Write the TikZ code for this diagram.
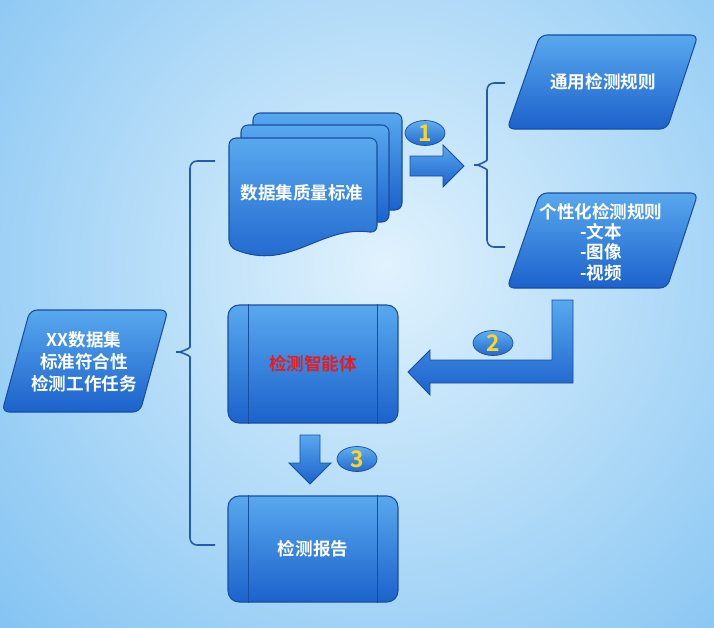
\documentclass[tikz,border=0pt]{standalone}
\usepackage{fontspec}
\setmainfont{Noto Sans CJK SC}[BoldFont={Noto Sans CJK SC Bold}]
\usetikzlibrary{calc,shapes.geometric}

\definecolor{bgout}{RGB}{92,176,238}
\definecolor{bgin}{RGB}{224,242,253}
\definecolor{boxtop}{RGB}{88,168,238}
\definecolor{boxbot}{RGB}{28,98,204}
\definecolor{badgetop}{RGB}{95,175,240}
\definecolor{badgebot}{RGB}{35,105,205}
\definecolor{boxline}{RGB}{24,78,160}
\definecolor{bracecol}{RGB}{40,90,165}
\definecolor{numcol}{RGB}{250,214,40}
\definecolor{agentred}{RGB}{225,30,35}

\tikzset{
	blueshape/.style={draw=boxline,line width=0.6pt,top color=boxtop,bottom color=boxbot,rounded corners=4pt},
	lbl/.style={text=white,font=\bfseries\fontsize{10}{12.5}\selectfont,align=center},
	flowbox/.style={blueshape,lbl,rectangle,rounded corners=0.22cm,minimum width=3.4cm},
	badge/.style={ellipse,draw=boxline,line width=0.4pt,top color=badgetop,bottom color=badgebot,minimum width=0.8cm,minimum height=0.5cm,inner sep=0pt,text=numcol,font=\bfseries\fontsize{13}{13}\selectfont},
	brace/.style={draw=bracecol,line width=0.9pt,rounded corners=4pt},
	blockarrow/.style={draw=boxline,line width=0.5pt,top color=boxtop,bottom color=boxbot}
}

\begin{document}
\begin{tikzpicture}[x=0.02cm,y=-0.02cm]
	\begin{scope}
		\clip (0,0) rectangle (714,627);
		\fill[bgout] (0,0) rectangle (714,627);
		\shade[inner color=bgin,outer color=bgout] (385,265) circle (760);
	\end{scope}
	\useasboundingbox (0,0) rectangle (714,627);

	\draw[blueshape] (30,310) -- (168,310) -- (140,412) -- (2,412) -- cycle;
	\node[lbl] (task) at (84,362) {XX数据集\\标准符合性\\检测工作任务};

	\draw[blueshape] (253,113) rectangle (402,210);
	\draw[blueshape] (241,125) rectangle (389,222);
	\draw[blueshape] (229,138) -- (377,138) -- (377,233) .. controls (320,225) and (290,272) .. (229,247) -- cycle;
	\node[lbl] (std) at (302,193) {数据集质量标准};

	\draw[blueshape] (540,35) -- (698,35) -- (667,129) -- (507,129) -- cycle;
	\node[lbl] (common) at (603,82) {通用检测规则};
	\draw[blueshape] (540,193) -- (698,193) -- (667,288) -- (507,288) -- cycle;
	\node[lbl,font=\bfseries\fontsize{10}{11.5}\selectfont] (custom) at (601,242) {个性化检测规则\\-文本\\-图像\\-视频};

	\node[flowbox,minimum height=2.36cm,text=agentred] (agent) at (313,364) {检测智能体};
	\draw[boxline,line width=0.6pt] ($(agent.north west)+(21,0)$) -- ($(agent.south west)+(21,0)$);
	\draw[boxline,line width=0.6pt] ($(agent.north east)+(-21,0)$) -- ($(agent.south east)+(-21,0)$);
	\node[flowbox,minimum height=2.12cm] (report) at (313,549) {检测报告};
	\draw[boxline,line width=0.6pt] ($(report.north west)+(21,0)$) -- ($(report.south west)+(21,0)$);
	\draw[boxline,line width=0.6pt] ($(report.north east)+(-21,0)$) -- ($(report.south east)+(-21,0)$);

	\draw[brace] (215,161) -- (190,161) -- (190,340) to[out=-90,in=0] (172,352) to[out=0,in=90] (190,364) -- (190,545) -- (215,545);
	\draw[brace] (505,83) -- (487,83) -- (487,153) to[out=-90,in=0] (470,165) to[out=0,in=90] (487,177) -- (487,247) -- (505,247);

	\draw[blockarrow] (410,156) -- (443,156) -- (443,145) -- (464,166) -- (443,187) -- (443,176) -- (410,176) -- cycle;
	\draw[blockarrow] (552,300) -- (573,300) -- (573,383) -- (430,383) -- (430,395) -- (408,372) -- (430,350) -- (430,360) -- (552,360) -- cycle;
	\draw[blockarrow] (300,435) -- (320,435) -- (320,463) -- (331,463) -- (310,484) -- (289,463) -- (300,463) -- cycle;

	\node[badge] (n1) at (425,133) {1};
	\node[badge] (n2) at (493,343) {2};
	\node[badge] (n3) at (357,459) {3};
\end{tikzpicture}
\end{document}
